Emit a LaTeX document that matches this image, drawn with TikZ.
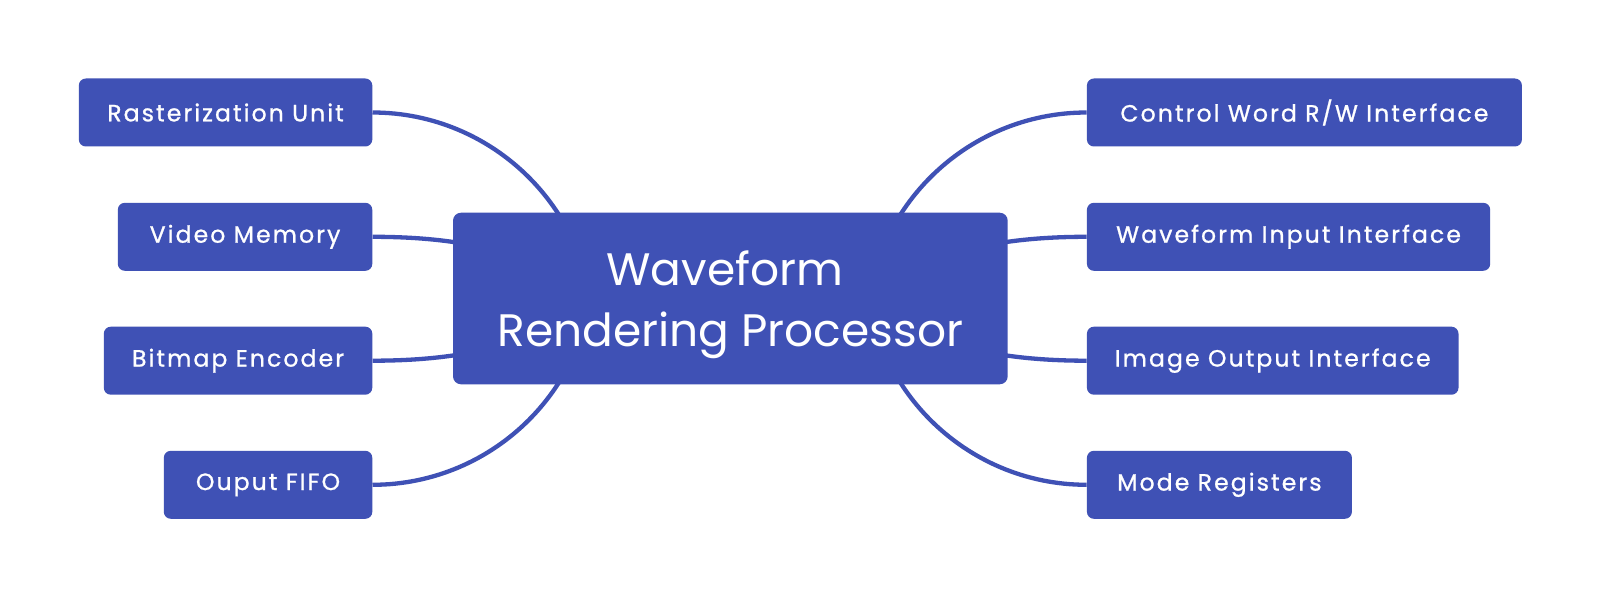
\documentclass[tikz,border=0pt]{standalone}
\usepackage{fontspec}
\setmainfont{Poppins}
\newfontfamily\leaffont{Poppins}[LetterSpace=9,FakeBold=1]
\usetikzlibrary{backgrounds,calc}
\definecolor{indigo}{RGB}{63,81,181}
\begin{document}
\begin{tikzpicture}[x=1pt,y=1pt,
  leaf/.style={fill=indigo, rounded corners=7pt, minimum height=68pt, inner sep=0pt,
    text=white, font=\leaffont\fontsize{23.5}{28}\selectfont},
  hub/.style={fill=indigo, rounded corners=8pt, minimum width=554.7pt, minimum height=171.6pt,
    inner sep=0pt, text=white, align=center, font=\fontsize{45.5}{61}\selectfont, text depth=0pt},
  conn/.style={draw=indigo, line width=4.3pt}]
\useasboundingbox (0,0) rectangle (1600,598);

\node[hub] (wrp) at (730.35,299.5) {Waveform\hspace*{11pt}\\Rendering Processor};

\node[leaf, anchor=east, minimum width=293.5pt] (ru) at (372.5,485.5) {Rasterization Unit};
\node[leaf, anchor=east, minimum width=254.5pt] (vm) at (372.5,361.2) {Video Memory};
\node[leaf, anchor=east, minimum width=268.5pt] (be) at (372.5,237.3) {Bitmap Encoder};
\node[leaf, anchor=east, minimum width=208.5pt] (of) at (372.5,113.2) {Ouput FIFO};

\node[leaf, anchor=west, minimum width=435pt] (cw) at (1086.7,485.5) {Control Word R/W Interface};
\node[leaf, anchor=west, minimum width=403.3pt] (wi) at (1086.7,361.2) {Waveform Input Interface};
\node[leaf, anchor=west, minimum width=371.6pt] (io) at (1086.7,237.3) {Image Output Interface};
\node[leaf, anchor=west, minimum width=265pt] (mr) at (1086.7,113.2) {Mode Registers};

\begin{scope}[on background layer]
\fill[white] (0,0) rectangle (1600,598);
% outer branches: quarter-circle arcs ending hidden inside the hub
\draw[conn] (ru.east) .. controls +(122,0) and +(0,122) .. ($(ru.east)+(221,-221)$);
\draw[conn] (of.east) .. controls +(122,0) and +(0,-122) .. ($(of.east)+(221,221)$);
\draw[conn] (cw.west) .. controls +(-122,0) and +(0,122) .. ($(cw.west)+(-221,-221)$);
\draw[conn] (mr.west) .. controls +(-122,0) and +(0,-122) .. ($(mr.west)+(-221,221)$);
% inner branches
\foreach \n in {vm,be}
  \draw[conn] (\n.east) .. controls +(179,0) and +(-179,0) .. (wrp.center);
\foreach \n in {wi,io}
  \draw[conn] (wrp.center) .. controls +(178,0) and +(-178,0) .. (\n.west);
\end{scope}
\end{tikzpicture}
\end{document}
